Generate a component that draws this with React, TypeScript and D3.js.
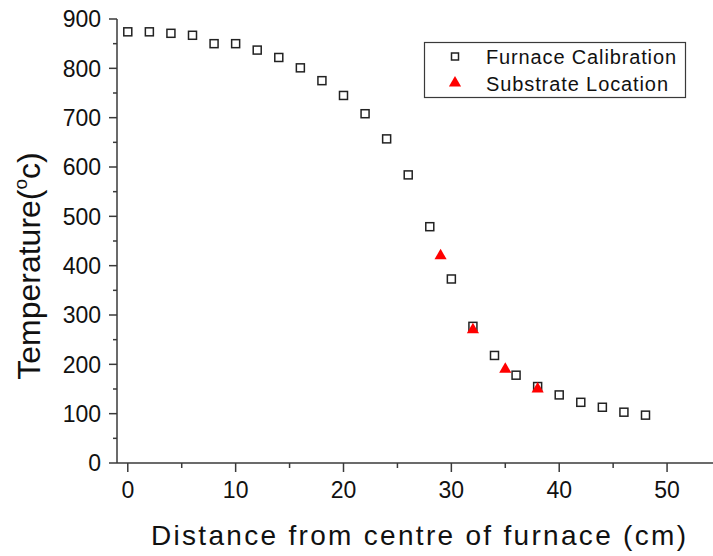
import React from "react";
import * as d3 from "d3";

// Furnace temperature profile along the tube
const distanceCm = [0, 2, 4, 6, 8, 10, 12, 14, 16, 18, 20, 22, 24, 26, 28, 30, 32, 34, 36, 38, 40, 42, 44, 46, 48];
const furnaceTemp = [874, 874, 871, 867, 850, 850, 837, 822, 801, 775, 745, 708, 657, 584, 479, 373, 277, 218, 178, 155, 138, 123, 113, 103, 97];

// Positions where substrates were placed
const substrateCm = [29, 32, 35, 38];
const substrateTemp = [420, 270, 190, 150];

const xTicks = [0, 10, 20, 30, 40, 50];
const yTicks = [0, 100, 200, 300, 400, 500, 600, 700, 800, 900];

const W = 713;
const H = 556;
const FONT = "Arial, 'Liberation Sans', sans-serif";
const AXIS = "#3a3a3a";

export default function App() {
  const x = d3.scaleLinear().domain([-1, 55]).range([117, 721]);
  const y = d3.scaleLinear().domain([0, 900]).range([463, 19]);
  const x0 = x(-1);
  const y0 = y(0);

  const xMinor = d3.range(5, 55, 10);
  const yMinor = d3.range(50, 900, 100);

  const tri = d3.symbol().type(d3.symbolTriangle).size(64);

  return (
    <svg
      width={W}
      height={H}
      style={{ position: "absolute", left: 0, top: 0, background: "#fff" }}
      fontFamily={FONT}
    >
      <rect width={W} height={H} fill="#fff" />

      {/* axes */}
      <line x1={x0} x2={x0} y1={y(900)} y2={y0} stroke={AXIS} strokeWidth={1.5} />
      <line x1={x0} x2={W} y1={y0} y2={y0} stroke={AXIS} strokeWidth={1.5} />

      {yTicks.map((t) => (
        <g key={"yt" + t}>
          <line x1={x0 - 8} x2={x0} y1={y(t)} y2={y(t)} stroke={AXIS} strokeWidth={1.5} />
          <text x={101} y={y(t)} dy="0.36em" textAnchor="end" fontSize={23} fill="#111">
            {t}
          </text>
        </g>
      ))}
      {yMinor.map((t) => (
        <line key={"ym" + t} x1={x0 - 4} x2={x0} y1={y(t)} y2={y(t)} stroke={AXIS} strokeWidth={1.5} />
      ))}

      {xTicks.map((t) => (
        <g key={"xt" + t}>
          <line x1={x(t)} x2={x(t)} y1={y0} y2={y0 + 9} stroke={AXIS} strokeWidth={1.5} />
          <text x={x(t)} y={498} textAnchor="middle" fontSize={23} fill="#111">
            {t}
          </text>
        </g>
      ))}
      {xMinor.map((t) => (
        <line key={"xm" + t} x1={x(t)} x2={x(t)} y1={y0} y2={y0 + 5} stroke={AXIS} strokeWidth={1.5} />
      ))}

      {/* axis titles */}
      <text x={151} y={545} fontSize={28} fill="#111" textLength={535} lengthAdjust="spacing">
        Distance from centre of furnace (cm)
      </text>
      <text transform="translate(40,266) rotate(-90)" textAnchor="middle" fontSize={32} fill="#111">
        Temperature(
        <tspan fontSize={19} dy={-13}>o</tspan>
        <tspan dy={13}>c)</tspan>
      </text>

      {/* furnace calibration points */}
      {distanceCm.map((d, i) => (
        <rect
          key={"f" + i}
          x={x(d) - 4}
          y={y(furnaceTemp[i]) - 4}
          width={8}
          height={8}
          fill="#fff"
          stroke="#222"
          strokeWidth={1.5}
        />
      ))}

      {/* substrate locations */}
      {substrateCm.map((d, i) => (
        <path
          key={"s" + i}
          d={tri() as string}
          transform={`translate(${x(d)},${y(substrateTemp[i])})`}
          fill="#ff0000"
        />
      ))}

      {/* legend */}
      <rect x={424.5} y={42.5} width={261} height={55} fill="#fff" stroke={AXIS} strokeWidth={1.2} />
      <rect x={451.5} y={53} width={7} height={7} fill="#fff" stroke="#222" strokeWidth={1.5} />
      <path d={tri() as string} transform="translate(455,83)" fill="#ff0000" />
      <text x={486} y={64} fontSize={20} fill="#111" textLength={190} lengthAdjust="spacing">
        Furnace Calibration
      </text>
      <text x={486} y={91} fontSize={20} fill="#111" textLength={182} lengthAdjust="spacing">
        Substrate Location
      </text>
    </svg>
  );
}
